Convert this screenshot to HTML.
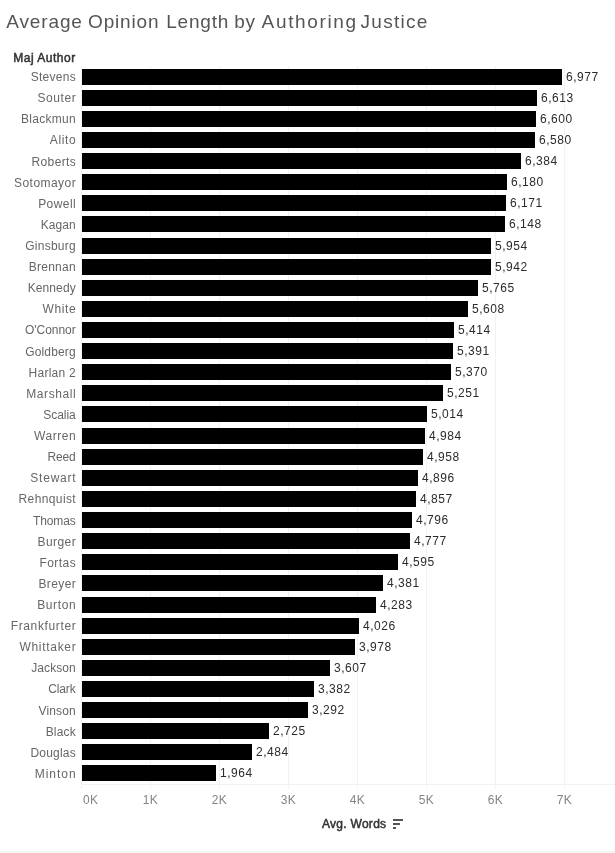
<!DOCTYPE html>
<html><head><meta charset="utf-8"><title>Average Opinion Length by Authoring Justice</title>
<style>
html,body{margin:0;padding:0;background:#fff;}
body{width:615px;height:853px;position:relative;overflow:hidden;font-family:"Liberation Sans",sans-serif;}
.abs{position:absolute;}
.title{left:6px;top:10px;font-size:19px;line-height:24px;color:#555;white-space:nowrap;letter-spacing:1.02px;}
.hdr{left:13.3px;top:51px;letter-spacing:0.5px;font-size:12px;line-height:14px;font-weight:normal;-webkit-text-stroke:0.5px #333;color:#333;white-space:nowrap;}
.rl{left:0;width:76.2px;letter-spacing:0.4px;text-align:right;font-size:12px;line-height:16px;height:16px;color:#666;white-space:nowrap;}
.bar{left:82px;height:16px;background:#000;}
.vl{letter-spacing:0.55px;font-size:12px;line-height:16px;height:16px;color:#2b2b2b;white-space:nowrap;}
.grid{top:66px;width:1px;height:718px;background:#f2f2f2;}
.tick{top:784px;width:1px;height:5px;background:#f2f2f2;}
.al{top:793px;letter-spacing:0.3px;font-size:12px;line-height:14px;color:#848484;white-space:nowrap;}
.axt{left:322px;top:817px;font-size:12px;line-height:14px;font-weight:normal;-webkit-text-stroke:0.5px #333;letter-spacing:0.28px;color:#333;white-space:nowrap;}
</style></head><body>
<div class="abs title" style="left:0;width:440px;height:24px"><span class="abs" style="left:6.3px;top:0;letter-spacing:0.87px">Average</span> <span class="abs" style="left:88.1px;top:0;letter-spacing:0.82px">Opinion</span> <span class="abs" style="left:166.2px;top:0;letter-spacing:0.8px">Length</span> <span class="abs" style="left:234.2px;top:0;letter-spacing:0.8px">by</span> <span class="abs" style="left:261.6px;top:0;letter-spacing:1.65px">Authoring</span> <span class="abs" style="left:360.6px;top:0;letter-spacing:1.27px">Justice</span></div>
<div class="abs hdr">Maj Author</div>

<div class="abs grid" style="left:81px;background:#f2f2f2"></div>
<div class="abs tick" style="left:81px"></div>
<div class="abs grid" style="left:150px;background:#f2f2f2"></div>
<div class="abs tick" style="left:150px"></div>
<div class="abs grid" style="left:219px;background:#f2f2f2"></div>
<div class="abs tick" style="left:219px"></div>
<div class="abs grid" style="left:288px;background:#f2f2f2"></div>
<div class="abs tick" style="left:288px"></div>
<div class="abs grid" style="left:357px;background:#f2f2f2"></div>
<div class="abs tick" style="left:357px"></div>
<div class="abs grid" style="left:426px;background:#f2f2f2"></div>
<div class="abs tick" style="left:426px"></div>
<div class="abs grid" style="left:495px;background:#f2f2f2"></div>
<div class="abs tick" style="left:495px"></div>
<div class="abs grid" style="left:564px;background:#f2f2f2"></div>
<div class="abs tick" style="left:564px"></div>
<div class="abs" style="left:81px;top:784px;width:534px;height:1px;background:#f2f2f2"></div>
<div class="abs rl" style="top:69px;letter-spacing:0.28px;width:75.98px">Stevens</div>
<div class="abs bar" style="top:69px;width:480px"></div>
<div class="abs vl" style="top:69px;left:566px">6,977</div>
<div class="abs rl" style="top:90px;letter-spacing:0.56px;width:76.26px">Souter</div>
<div class="abs bar" style="top:90px;width:455px"></div>
<div class="abs vl" style="top:90px;left:541px">6,613</div>
<div class="abs rl" style="top:111px;letter-spacing:0.3px;width:76.00px">Blackmun</div>
<div class="abs bar" style="top:111px;width:454px"></div>
<div class="abs vl" style="top:111px;left:540px">6,600</div>
<div class="abs rl" style="top:132px;letter-spacing:0.65px;width:76.35px">Alito</div>
<div class="abs bar" style="top:132px;width:453px"></div>
<div class="abs vl" style="top:132px;left:539px">6,580</div>
<div class="abs rl" style="top:154px;letter-spacing:0.35px;width:76.05px">Roberts</div>
<div class="abs bar" style="top:153px;width:439px"></div>
<div class="abs vl" style="top:153px;left:525px">6,384</div>
<div class="abs rl" style="top:175px;letter-spacing:0.46px;width:76.16px">Sotomayor</div>
<div class="abs bar" style="top:174px;width:425px"></div>
<div class="abs vl" style="top:174px;left:511px">6,180</div>
<div class="abs rl" style="top:196px;letter-spacing:0.44px;width:76.14px">Powell</div>
<div class="abs bar" style="top:195px;width:424px"></div>
<div class="abs vl" style="top:195px;left:510px">6,171</div>
<div class="abs rl" style="top:217px;letter-spacing:0.05px;width:75.75px">Kagan</div>
<div class="abs bar" style="top:216px;width:423px"></div>
<div class="abs vl" style="top:216px;left:509px">6,148</div>
<div class="abs rl" style="top:238px;letter-spacing:0.25px;width:75.95px">Ginsburg</div>
<div class="abs bar" style="top:238px;width:409px"></div>
<div class="abs vl" style="top:238px;left:495px">5,954</div>
<div class="abs rl" style="top:259px;letter-spacing:0.28px;width:75.98px">Brennan</div>
<div class="abs bar" style="top:259px;width:409px"></div>
<div class="abs vl" style="top:259px;left:495px">5,942</div>
<div class="abs rl" style="top:280px;letter-spacing:0.11px;width:75.81px">Kennedy</div>
<div class="abs bar" style="top:280px;width:396px"></div>
<div class="abs vl" style="top:280px;left:482px">5,765</div>
<div class="abs rl" style="top:301px;letter-spacing:0.6px;width:76.30px">White</div>
<div class="abs bar" style="top:301px;width:386px"></div>
<div class="abs vl" style="top:301px;left:472px">5,608</div>
<div class="abs rl" style="top:322px;letter-spacing:-0.04px;width:75.66px">O'Connor</div>
<div class="abs bar" style="top:322px;width:372px"></div>
<div class="abs vl" style="top:322px;left:458px">5,414</div>
<div class="abs rl" style="top:344px;letter-spacing:0.16px;width:75.86px">Goldberg</div>
<div class="abs bar" style="top:343px;width:371px"></div>
<div class="abs vl" style="top:343px;left:457px">5,391</div>
<div class="abs rl" style="top:365px;letter-spacing:0.25px;width:75.95px">Harlan 2</div>
<div class="abs bar" style="top:364px;width:369px"></div>
<div class="abs vl" style="top:364px;left:455px">5,370</div>
<div class="abs rl" style="top:386px;letter-spacing:0.59px;width:76.29px">Marshall</div>
<div class="abs bar" style="top:385px;width:361px"></div>
<div class="abs vl" style="top:385px;left:447px">5,251</div>
<div class="abs rl" style="top:407px;letter-spacing:-0.04px;width:75.66px">Scalia</div>
<div class="abs bar" style="top:406px;width:345px"></div>
<div class="abs vl" style="top:406px;left:431px">5,014</div>
<div class="abs rl" style="top:428px;letter-spacing:0.54px;width:76.24px">Warren</div>
<div class="abs bar" style="top:428px;width:343px"></div>
<div class="abs vl" style="top:428px;left:429px">4,984</div>
<div class="abs rl" style="top:449px;letter-spacing:-0.2px;width:75.50px">Reed</div>
<div class="abs bar" style="top:449px;width:341px"></div>
<div class="abs vl" style="top:449px;left:427px">4,958</div>
<div class="abs rl" style="top:470px;letter-spacing:0.78px;width:76.48px">Stewart</div>
<div class="abs bar" style="top:470px;width:336px"></div>
<div class="abs vl" style="top:470px;left:422px">4,896</div>
<div class="abs rl" style="top:491px;letter-spacing:0.39px;width:76.09px">Rehnquist</div>
<div class="abs bar" style="top:491px;width:334px"></div>
<div class="abs vl" style="top:491px;left:420px">4,857</div>
<div class="abs rl" style="top:513px;letter-spacing:-0.14px;width:75.56px">Thomas</div>
<div class="abs bar" style="top:512px;width:330px"></div>
<div class="abs vl" style="top:512px;left:416px">4,796</div>
<div class="abs rl" style="top:534px;letter-spacing:0.42px;width:76.12px">Burger</div>
<div class="abs bar" style="top:533px;width:328px"></div>
<div class="abs vl" style="top:533px;left:414px">4,777</div>
<div class="abs rl" style="top:555px;letter-spacing:0.44px;width:76.14px">Fortas</div>
<div class="abs bar" style="top:554px;width:316px"></div>
<div class="abs vl" style="top:554px;left:402px">4,595</div>
<div class="abs rl" style="top:576px;letter-spacing:0.38px;width:76.08px">Breyer</div>
<div class="abs bar" style="top:575px;width:301px"></div>
<div class="abs vl" style="top:575px;left:387px">4,381</div>
<div class="abs rl" style="top:597px;letter-spacing:0.64px;width:76.34px">Burton</div>
<div class="abs bar" style="top:597px;width:294px"></div>
<div class="abs vl" style="top:597px;left:380px">4,283</div>
<div class="abs rl" style="top:618px;letter-spacing:0.63px;width:76.33px">Frankfurter</div>
<div class="abs bar" style="top:618px;width:277px"></div>
<div class="abs vl" style="top:618px;left:363px">4,026</div>
<div class="abs rl" style="top:639px;letter-spacing:0.69px;width:76.39px">Whittaker</div>
<div class="abs bar" style="top:639px;width:273px"></div>
<div class="abs vl" style="top:639px;left:359px">3,978</div>
<div class="abs rl" style="top:660px;letter-spacing:0.06px;width:75.76px">Jackson</div>
<div class="abs bar" style="top:660px;width:248px"></div>
<div class="abs vl" style="top:660px;left:334px">3,607</div>
<div class="abs rl" style="top:681px;letter-spacing:-0.15px;width:75.55px">Clark</div>
<div class="abs bar" style="top:681px;width:232px"></div>
<div class="abs vl" style="top:681px;left:318px">3,382</div>
<div class="abs rl" style="top:703px;letter-spacing:0.14px;width:75.84px">Vinson</div>
<div class="abs bar" style="top:702px;width:226px"></div>
<div class="abs vl" style="top:702px;left:312px">3,292</div>
<div class="abs rl" style="top:724px;letter-spacing:0.17px;width:75.87px">Black</div>
<div class="abs bar" style="top:723px;width:187px"></div>
<div class="abs vl" style="top:723px;left:273px">2,725</div>
<div class="abs rl" style="top:745px;letter-spacing:0.2px;width:75.90px">Douglas</div>
<div class="abs bar" style="top:744px;width:170px"></div>
<div class="abs vl" style="top:744px;left:256px">2,484</div>
<div class="abs rl" style="top:766px;letter-spacing:1.0px;width:76.70px">Minton</div>
<div class="abs bar" style="top:765px;width:134px"></div>
<div class="abs vl" style="top:765px;left:220px">1,964</div>
<div class="abs al" style="left:83px">0K</div>
<div class="abs al" style="left:130px;width:41px;text-align:center">1K</div>
<div class="abs al" style="left:199px;width:41px;text-align:center">2K</div>
<div class="abs al" style="left:268px;width:41px;text-align:center">3K</div>
<div class="abs al" style="left:337px;width:41px;text-align:center">4K</div>
<div class="abs al" style="left:406px;width:41px;text-align:center">5K</div>
<div class="abs al" style="left:475px;width:41px;text-align:center">6K</div>
<div class="abs al" style="left:544px;width:41px;text-align:center">7K</div>
<div class="abs axt">Avg. Words</div>
<svg class="abs" style="left:393px;top:819px" width="11" height="11" viewBox="0 0 11 11"><rect x="0" y="0" width="10" height="2" fill="#555"/><rect x="0" y="4" width="7" height="2" fill="#555"/><rect x="0" y="8" width="3" height="2" fill="#555"/></svg>
<div class="abs" style="left:0;top:851px;width:615px;height:2px;background:#f5f5f5"></div>
</body></html>
